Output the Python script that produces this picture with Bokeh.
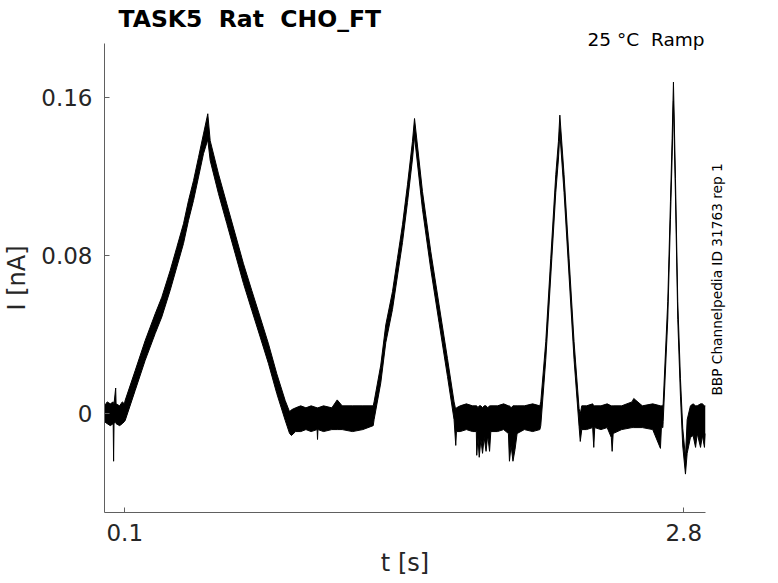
import math
import numpy as np
from bokeh.plotting import figure
from bokeh.models import FixedTicker, Range1d, Title, LinearAxis
from bokeh.embed import file_html
from bokeh.resources import INLINE

# ---- data (t in s, current envelope in nA) ----
t_trace = [
    # baseline 1
    0.002, 0.015, 0.030, 0.044, 0.046, 0.048, 0.056, 0.058, 0.075, 0.088, 0.098,
    # ramp 1
    0.1019, 0.1502, 0.1985, 0.2468, 0.2787, 0.3193, 0.3512, 0.3835, 0.4077, 0.4319,
    0.4561, 0.4801, 0.5009,
    0.5125, 0.5526, 0.5927, 0.6332, 0.6733, 0.7134, 0.7540, 0.7941, 0.8342, 0.8747,
    0.8960,
    # baseline 2
    0.905, 0.925, 0.950, 0.975, 1.000, 1.029, 1.031, 1.033, 1.060, 1.100, 1.126,
    1.150, 1.200, 1.250, 1.300,
    # ramp 2
    1.3041, 1.3365, 1.3606, 1.3930, 1.4171, 1.4413, 1.4654, 1.4896, 1.4995,
    1.5379, 1.5780, 1.6181, 1.6586, 1.6905, 1.6987, 1.7020,
    # baseline 3
    1.720, 1.750, 1.780, 1.798, 1.800, 1.806, 1.812, 1.820, 1.828, 1.836, 1.845,
    1.853, 1.862, 1.868, 1.900, 1.930, 1.953, 1.958, 1.966, 1.975, 1.985, 1.995,
    2.030, 2.070, 2.105,
    # ramp 3
    2.1093, 2.1335, 2.1576, 2.1818, 2.1947, 2.2015, 2.2218, 2.2459, 2.2701, 2.2943,
    2.3001, 2.3073,
    # baseline 4
    2.330, 2.360, 2.3653, 2.370, 2.400, 2.430, 2.450, 2.4541, 2.459, 2.500, 2.550,
    2.5585, 2.600, 2.650, 2.6874, 2.692, 2.699,
    # ramp 4
    2.7005, 2.7227, 2.7357, 2.7439, 2.7502, 2.7599, 2.7710, 2.7840, 2.7951, 2.8082,
    2.8164, 2.8323,
    # baseline 5
    2.845, 2.857, 2.865, 2.881, 2.890, 2.900, 2.905,
]

i_upper = [
    0.004, 0.006, 0.005, 0.006, 0.004, 0.005, 0.013, 0.005, 0.004, 0.006, 0.005,
    0.0068, 0.0218, 0.0370, 0.0505, 0.0589, 0.0724, 0.0841, 0.0960, 0.1077, 0.1178,
    0.1296, 0.1414, 0.1516,
    0.1380, 0.1212, 0.1061, 0.0909, 0.0758, 0.0623, 0.0488, 0.0353, 0.0202, 0.0067,
    0.0010,
    0.002, 0.003, 0.004, 0.003, 0.004, 0.003, 0.003, 0.003, 0.004, 0.003, 0.007,
    0.004, 0.004, 0.004, 0.004,
    0.006, 0.0246, 0.0449, 0.0617, 0.0786, 0.0955, 0.1157, 0.1377, 0.1492,
    0.1123, 0.0820, 0.0550, 0.0279, 0.0060, 0.0020, 0.0030,
    0.004, 0.005, 0.004, 0.004, 0.004, 0.003, 0.004, 0.004, 0.003, 0.004, 0.004,
    0.003, 0.004, 0.004, 0.004, 0.005, 0.004, 0.004, 0.003, 0.004, 0.004, 0.004,
    0.004, 0.005, 0.004,
    0.006, 0.0364, 0.0786, 0.1208, 0.1377, 0.1509, 0.1208, 0.0786, 0.0364, 0.0026,
    0.0000, 0.0040,
    0.004, 0.005, 0.004, 0.004, 0.004, 0.005, 0.004, 0.004, 0.004, 0.004, 0.006,
    0.0077, 0.004, 0.005, 0.004, 0.004, 0.004,
    0.005, 0.0567, 0.1072, 0.1392, 0.1676, 0.1190, 0.0567, 0.0179, -0.0073, -0.0220,
    -0.0030, 0.0040,
    0.005, 0.004, 0.004, 0.005, 0.005, 0.004, 0.004,
]

i_lower = [
    -0.004, -0.005, -0.006, -0.005, -0.024, -0.005, -0.004, -0.005, -0.006, -0.005, -0.004,
    -0.0034, 0.0118, 0.0270, 0.0405, 0.0489, 0.0624, 0.0741, 0.0860, 0.0977, 0.1078,
    0.1196, 0.1314, 0.1385,
    0.1280, 0.1112, 0.0961, 0.0809, 0.0658, 0.0523, 0.0388, 0.0253, 0.0102, -0.0033,
    -0.0100,
    -0.011, -0.009, -0.009, -0.008, -0.009, -0.008, -0.013, -0.008, -0.009, -0.008, -0.008,
    -0.008, -0.009, -0.008, -0.006,
    -0.003, 0.0156, 0.0359, 0.0527, 0.0696, 0.0865, 0.1067, 0.1287, 0.1400,
    0.1033, 0.0730, 0.0460, 0.0189, -0.0030, -0.0160, -0.0090,
    -0.009, -0.008, -0.009, -0.009, -0.021, -0.012, -0.022, -0.013, -0.020, -0.012, -0.019,
    -0.011, -0.019, -0.009, -0.009, -0.008, -0.010, -0.024, -0.016, -0.024, -0.018, -0.010,
    -0.008, -0.009, -0.008,
    -0.006, 0.0274, 0.0696, 0.1118, 0.1287, 0.1420, 0.1118, 0.0696, 0.0274, -0.0064,
    -0.0140, -0.0080,
    -0.008, -0.007, -0.017, -0.007, -0.008, -0.007, -0.012, -0.019, -0.010, -0.008, -0.007,
    -0.007, -0.007, -0.008, -0.0175, -0.007, -0.007,
    -0.004, 0.0477, 0.0982, 0.1302, 0.1580, 0.1100, 0.0477, 0.0089, -0.0163, -0.0305,
    -0.0200, -0.0120,
    -0.011, -0.017, -0.010, -0.017, -0.011, -0.017, -0.010,
]

x_ticks = [0.1, 2.8]
x_tick_labels = ["0.1", "2.8"]
y_ticks = [0.0, 0.08, 0.16]
y_tick_labels = ["0", "0.08", "0.16"]

title_text = "TASK5 \u00a0Rat \u00a0CHO_FT"
cond_text = "25 \u00b0C \u00a0Ramp"
source_text = "BBP Channelpedia ID 31763 rep 1"
x_label = "t [s]"
y_label = "I [nA]"

FONT = "DejaVu Sans"
AXIS_COLOR = "#606060"
TEXT_COLOR = "#262626"

p = figure(
    frame_width=601, frame_height=469,
    min_border_left=104, min_border_right=73, min_border_top=43, min_border_bottom=71,
    x_range=Range1d(0.002, 2.905), y_range=Range1d(-0.0499, 0.1871),
    output_backend="svg", toolbar_location=None,
)
p.outline_line_color = None
p.xgrid.visible = False
p.ygrid.visible = False
p.background_fill_color = "white"
p.border_fill_color = "white"

t = np.array(t_trace)
hi = np.array(i_upper)
lo = np.array(i_lower)
p.varea(x=t, y1=lo, y2=hi, fill_color="black", fill_alpha=1.0)
p.line(t, hi, line_color="black", line_width=1.0)
p.line(t, lo, line_color="black", line_width=1.0)

for ax, ticks, labels, standoff, label, lab_standoff in (
    (p.xaxis, x_ticks, x_tick_labels, 11, x_label, 5),
    (p.yaxis, y_ticks, y_tick_labels, 12, y_label, 7),
):
    ax.ticker = FixedTicker(ticks=ticks)
    ax.major_label_overrides = {tk: lb for tk, lb in zip(ticks, labels)}
    ax.major_tick_in = 5
    ax.major_tick_out = 0
    ax.minor_tick_line_color = None
    ax.axis_line_color = AXIS_COLOR
    ax.major_tick_line_color = AXIS_COLOR
    ax.major_label_text_font = FONT
    ax.major_label_text_font_size = "23px"
    ax.major_label_text_color = TEXT_COLOR
    ax.major_label_standoff = standoff
    ax.axis_label = label
    ax.axis_label_text_font = FONT
    ax.axis_label_text_font_size = "24px"
    ax.axis_label_text_font_style = "normal"
    ax.axis_label_text_color = TEXT_COLOR
    ax.axis_label_standoff = lab_standoff

# source note on the right, reading bottom to top (drawn as the only tick label
# of an invisible right axis, starting at the level where the text begins)
src_start = 0.0092
right_ax = LinearAxis(ticker=FixedTicker(ticks=[src_start]))
right_ax.major_label_overrides = {src_start: source_text}
right_ax.major_label_orientation = math.pi / 2
right_ax.axis_line_color = None
right_ax.major_tick_line_color = None
right_ax.minor_tick_line_color = None
right_ax.major_tick_in = 0
right_ax.major_tick_out = 0
right_ax.major_label_standoff = 12
right_ax.major_label_text_font = FONT
right_ax.major_label_text_font_size = "13.7px"
right_ax.major_label_text_color = "black"
p.add_layout(right_ax, "right")

# titles above the frame (first added sits nearest the frame)
p.add_layout(Title(text=cond_text, align="right", offset=1, standoff=-13.5,
                   text_font=FONT, text_font_size="18.5px", text_font_style="normal",
                   text_color="black"), "above")
p.add_layout(Title(text=title_text, align="left", offset=14, standoff=1.5,
                   text_font=FONT, text_font_size="23.5px", text_font_style="bold",
                   text_color="black"), "above")

open("out.html", "w").write(file_html(p, INLINE, "TASK5 Rat CHO_FT"))
